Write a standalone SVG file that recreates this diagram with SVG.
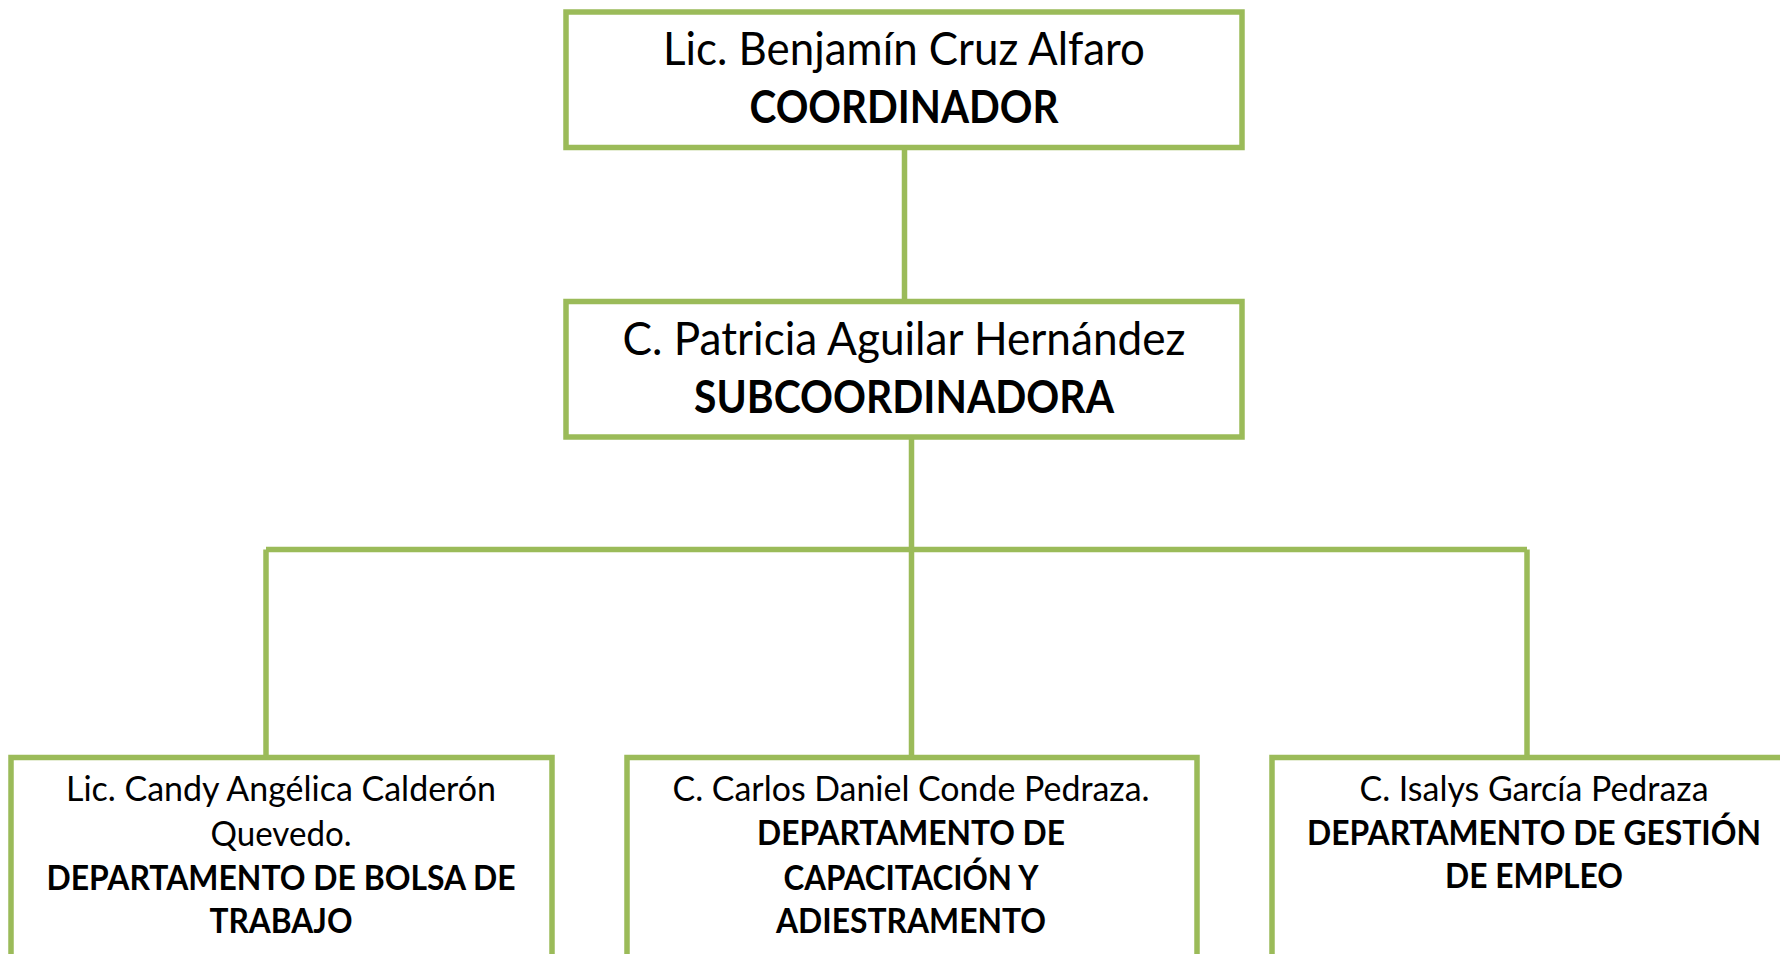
<svg xmlns="http://www.w3.org/2000/svg" width="1780" height="954" viewBox="0 0 1780 954">
<style>
.box{fill:#ffffff;stroke:#9BBB59;stroke-width:5.5}
.conn{fill:none;stroke:#9BBB59;stroke-width:5.5}
.t{font-family:Lato,"Noto Sans","Liberation Sans",sans-serif;fill:#000000;text-anchor:middle}
.big{font-size:46px}
.sm{font-size:35px}
.b{font-weight:bold}
</style>
<rect width="1780" height="954" fill="#ffffff"/>
<g id="connectors">
<line class="conn" x1="904.5" y1="148" x2="904.5" y2="301"/>
<line class="conn" x1="911.5" y1="426" x2="911.5" y2="757"/>
<line class="conn" x1="266" y1="549.5" x2="1527" y2="549.5"/>
<line class="conn" x1="266" y1="549.5" x2="266" y2="757"/>
<line class="conn" x1="1527" y1="549.5" x2="1527" y2="757"/>
</g>
<g id="coordinador">
<rect class="box" x="566" y="12" width="676" height="135.5"/>
<text class="t big" x="904" y="65" textLength="482" lengthAdjust="spacingAndGlyphs">Lic. Benjamín Cruz Alfaro</text>
<text class="t big b" x="904" y="123" textLength="309" lengthAdjust="spacingAndGlyphs">COORDINADOR</text>
</g>
<g id="subcoordinadora">
<rect class="box" x="566" y="301.5" width="676" height="135.5"/>
<text class="t big" x="904" y="355" textLength="563" lengthAdjust="spacingAndGlyphs">C. Patricia Aguilar Hernández</text>
<text class="t big b" x="904" y="413" textLength="420" lengthAdjust="spacingAndGlyphs">SUBCOORDINADORA</text>
</g>
<g id="bolsa">
<rect class="box" x="11" y="757.5" width="541" height="230"/>
<text class="t sm" x="281" y="801" textLength="430" lengthAdjust="spacingAndGlyphs">Lic. Candy Angélica Calderón</text>
<text class="t sm" x="281" y="846" textLength="141" lengthAdjust="spacingAndGlyphs">Quevedo.</text>
<text class="t sm b" x="281" y="890" textLength="469" lengthAdjust="spacingAndGlyphs">DEPARTAMENTO DE BOLSA DE</text>
<text class="t sm b" x="281" y="933" textLength="143" lengthAdjust="spacingAndGlyphs">TRABAJO</text>
</g>
<g id="capacitacion">
<rect class="box" x="627" y="757.5" width="570" height="230"/>
<text class="t sm" x="911" y="801" textLength="477" lengthAdjust="spacingAndGlyphs">C. Carlos Daniel Conde Pedraza.</text>
<text class="t sm b" x="911" y="845" textLength="308" lengthAdjust="spacingAndGlyphs">DEPARTAMENTO DE</text>
<text class="t sm b" x="911" y="890" textLength="255" lengthAdjust="spacingAndGlyphs">CAPACITACIÓN Y</text>
<text class="t sm b" x="911" y="933" textLength="270" lengthAdjust="spacingAndGlyphs">ADIESTRAMENTO</text>
</g>
<g id="gestion">
<rect class="box" x="1272" y="757.5" width="540" height="230"/>
<text class="t sm" x="1534" y="801" textLength="349" lengthAdjust="spacingAndGlyphs">C. Isalys García Pedraza</text>
<text class="t sm b" x="1534" y="845" textLength="454" lengthAdjust="spacingAndGlyphs">DEPARTAMENTO DE GESTIÓN</text>
<text class="t sm b" x="1534" y="888" textLength="178" lengthAdjust="spacingAndGlyphs">DE EMPLEO</text>
</g>
</svg>
